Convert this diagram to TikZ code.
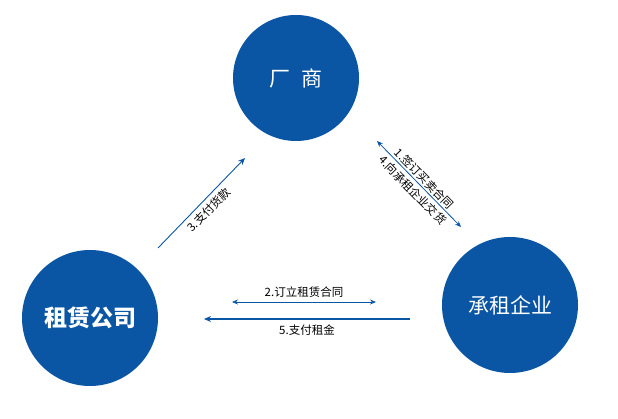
\documentclass[tikz,border=0pt]{standalone}
\usepackage{fontspec}
\setmainfont{Noto Sans CJK SC}
\usetikzlibrary{arrows.meta}
\definecolor{corpblue}{HTML}{0A56A4}
\begin{document}
\begin{tikzpicture}[x=1pt, y=1pt,
  party/.style={circle, fill=corpblue, text=white, minimum size=136pt, inner sep=0pt, font=\fontsize{21}{24}\selectfont},
  flow/.style={draw=corpblue, line width=1.2pt, -{Stealth[length=7pt,width=6pt]}},
  twoway/.style={draw=corpblue, line width=0.8pt, {Stealth[length=6pt,width=5pt]}-{Stealth[length=6pt,width=5pt]}},
  note/.style={font=\fontsize{11.5}{13}\selectfont, inner sep=1pt}]
\useasboundingbox (0,0) rectangle (618,-419);
\node [party, minimum size=126pt] (maker) at (296,-78) {厂\hspace{0.5em}商};
\node [party, font=\fontsize{23}{26}\selectfont\bfseries] (lessor) at (90,-318) {租赁公司};
\node [party] (lessee) at (510,-305) {承租企业};

% connectors
\coordinate (p3a) at (158,-248);
\coordinate (p3b) at (245,-158);
\draw [flow, line width=0.9pt] (p3a) -- (p3b) node [note, midway, sloped, below=3pt] {3.支付货款};

\coordinate (p1a) at (377,-141);
\coordinate (p1b) at (461,-227);
\draw [twoway] (p1a) -- (p1b)
  node [note, midway, sloped, above=1pt] {1.签订买卖合同}
  node [note, midway, sloped, below=2pt] {4.向承租企业交货};

\coordinate (p2a) at (232,-302);
\coordinate (p2b) at (376,-302);
\draw [twoway] (p2a) -- (p2b) node [note, midway, above=3pt] {2.订立租赁合同};

\coordinate (p5a) at (410,-319);
\coordinate (p5b) at (204,-319);
\draw [flow] (p5a) -- (p5b) node [note, midway, below=4pt] {5.支付租金};
\end{tikzpicture}
\end{document}
